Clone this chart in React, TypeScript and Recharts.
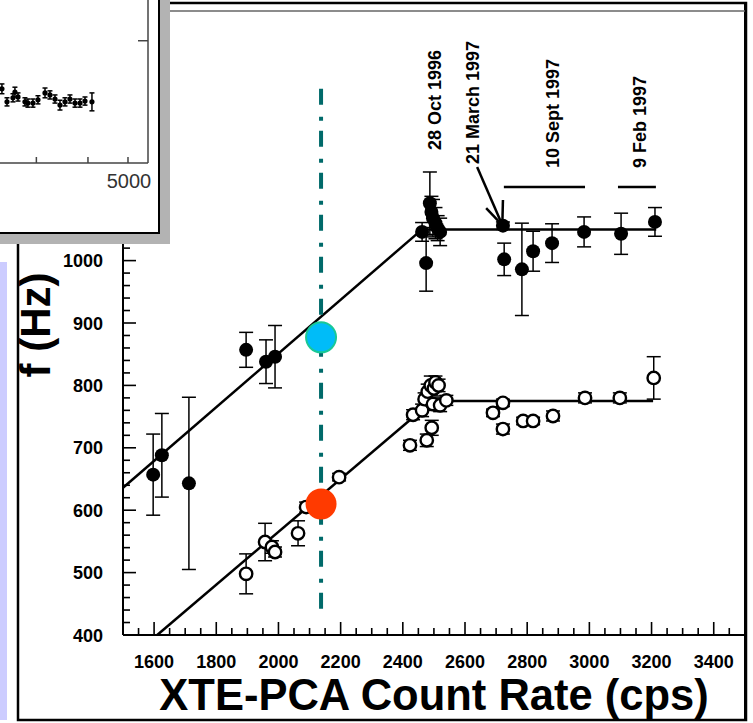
import { ScatterChart, Scatter, XAxis, YAxis, ErrorBar, ReferenceLine } from "recharts";

// upper kHz QPO (filled circles): count rate, frequency, 1-sigma error
const upperRate = [1597, 1625, 1712, 1896, 1960, 1989, 2462, 2475, 2487, 2492, 2497, 2505, 2512, 2520, 2722, 2726, 2783, 2819, 2880, 2983, 3102, 3211];
const upperFreq = [657, 688, 643, 857, 838, 846, 1046, 996, 1092, 1078, 1068, 1060, 1052, 1046, 1056, 1002, 986, 1015, 1028, 1046, 1043, 1062];
const upperErr = [65, 67, 138, 28, 35, 50, 15, 45, 50, 25, 30, 25, 20, 22, 6, 26, 74, 32, 31, 24, 33, 23];

// lower kHz QPO (open circles)
const lowerRate = [1896, 1957, 1979, 1989, 2063, 2089, 2195, 2423, 2433, 2462, 2470, 2477, 2480, 2490, 2493, 2497, 2500, 2505, 2515, 2520, 2540, 2690, 2722, 2722, 2787, 2819, 2883, 2986, 3098, 3207];
const lowerFreq = [498, 549, 541, 533, 563, 605, 653, 704, 753, 760, 778, 712, 790, 800, 732, 770, 795, 805, 800, 768, 776, 756, 772, 730, 743, 743, 751, 780, 780, 812];
const lowerErr = [32, 30, 10, 8, 20, 8, 6, 8, 8, 10, 10, 10, 12, 15, 12, 10, 12, 10, 10, 10, 8, 6, 6, 8, 6, 6, 8, 8, 8, 34];

// broken-line fits (rate, freq)
const upperFit = [[1500, 636], [2462, 1050], [3215, 1050]];
const lowerFit = [[1610, 400], [2495, 775], [3205, 775]];

// marked count rate and the two frequencies read there
const markRate = 2137;
const markFreq = [877, 610];
const markSpan = [442, 1289];

// observation ranges
const sept97Range = [2725, 2986];
const feb97Range = [3092, 3214];
const rangeLevel = 1118;
const marchArrow = [[2639, 1150], [2720, 1057]];
const marchBarbs = [[2668, 1084], [2722, 1097]];

const xMajor = [1600, 1800, 2000, 2200, 2400, 2600, 2800, 3000, 3200, 3400];
const yMajor = [400, 500, 600, 700, 800, 900, 1000, 1100, 1200, 1300, 1400];

// inset light curve
const insetTime = [2476, 2547, 2633, 2662, 2708, 2815, 2862, 2943, 3027, 3148, 3236, 3328, 3422, 3519, 3618, 3721, 3826, 3934, 4090];
const insetRate = [1.82, 1.5, 1.6, 1.74, 1.62, 1.5, 1.47, 1.47, 1.55, 1.72, 1.67, 1.57, 1.42, 1.5, 1.57, 1.47, 1.47, 1.52, 1.5];
const insetErr = [0.12, 0.1, 0.1, 0.12, 0.1, 0.1, 0.1, 0.1, 0.1, 0.12, 0.1, 0.1, 0.12, 0.1, 0.1, 0.1, 0.1, 0.1, 0.22];
const insetTicks = [3000, 4000, 5000];

const upperData = upperRate.map((x, i) => ({ x, y: upperFreq[i], err: upperErr[i] }));
const lowerData = lowerRate.map((x, i) => ({ x, y: lowerFreq[i], err: lowerErr[i] }));
const markData = markFreq.map((y) => ({ x: markRate, y }));
const insetData = insetTime.map((x, i) => ({ x, y: insetRate[i], err: insetErr[i] }));

const xTicks: number[] = [];
for (let v = 1500; v <= 3500; v += 50) xTicks.push(v);
const yTicks: number[] = [];
for (let v = 400; v <= 1400; v += 20) yTicks.push(v);

const FONT = "'Liberation Sans', Arial, Helvetica, sans-serif";

const XTick = (p: any) => {
  const v = p.payload.value;
  const major = xMajor.includes(v);
  return (
    <g>
      <line x1={p.x} x2={p.x} y1={p.y} y2={p.y - (major ? 13 : 7)} stroke="#000" strokeWidth={1.6} />
      {major && (
        <text x={p.x} y={p.y + 33} textAnchor="middle" fontSize={18} fontWeight="bold" fontFamily={FONT} fill="#000">
          {v}
        </text>
      )}
    </g>
  );
};

const YTick = (p: any) => {
  const v = p.payload.value;
  const major = yMajor.includes(v);
  return (
    <g>
      <line x1={p.x} x2={p.x + (major ? 13 : 7)} y1={p.y} y2={p.y} stroke="#000" strokeWidth={1.6} />
      {major && (
        <text x={p.x - 20} y={p.y + 6.5} textAnchor="end" fontSize={18} fontWeight="bold" fontFamily={FONT} fill="#000">
          {v}
        </text>
      )}
    </g>
  );
};

const InsetXTick = (p: any) => {
  const v = p.payload.value;
  return (
    <g>
      <line x1={p.x} x2={p.x} y1={p.y} y2={p.y - 6} stroke="#444" strokeWidth={1.5} />
      {v === 5000 && (
        <text x={p.x + 1} y={p.y + 25} textAnchor="middle" fontSize={20} fontFamily={FONT} fill="#333">
          {v}
        </text>
      )}
    </g>
  );
};

const InsetYTick = (p: any) => (
  <line x1={p.x - 10} x2={p.x} y1={p.y} y2={p.y} stroke="#444" strokeWidth={1.5} />
);

const FilledDot = (p: any) => <circle cx={p.cx} cy={p.cy} r={7} fill="#000" />;
const OpenDot = (p: any) => <circle cx={p.cx} cy={p.cy} r={6.2} fill="#fff" stroke="#000" strokeWidth={2.4} />;
const InsetDot = (p: any) => <circle cx={p.cx} cy={p.cy} r={2.6} fill="#000" />;
const MarkDot = (p: any) =>
  p.index === 0 ? (
    <circle cx={p.cx} cy={p.cy} r={15} fill="#00BCF8" stroke="#19C896" strokeWidth={2} />
  ) : (
    <circle cx={p.cx} cy={p.cy} r={15.5} fill="#FF3A00" />
  );

const seg = (pts: number[][]) => pts.map(([x, y]) => ({ x, y }));

const dateLabels = [
  { text: "28 Oct 1996", x: 435, y: 150 },
  { text: "21 March 1997", x: 473, y: 164 },
  { text: "10 Sept  1997", x: 553, y: 168 },
  { text: "9 Feb 1997", x: 640, y: 168 },
];

export default function App() {
  return (
    <div style={{ position: "absolute", left: 0, top: 0, width: 753, height: 723, background: "#fff", overflow: "hidden" }}>
      <ScatterChart width={753} height={723} margin={{ top: 11, right: 6, left: 0, bottom: 0 }}>
        <XAxis
          type="number"
          dataKey="x"
          domain={[1500, 3507]}
          allowDataOverflow
          ticks={xTicks}
          interval={0}
          tick={XTick}
          tickLine={false}
          tickSize={0}
          tickMargin={0}
          height={88}
          axisLine={{ stroke: "#000", strokeWidth: 2 }}
        />
        <YAxis
          type="number"
          dataKey="y"
          domain={[400, 1400]}
          allowDataOverflow
          ticks={yTicks}
          interval={0}
          tick={YTick}
          tickLine={false}
          tickSize={0}
          tickMargin={0}
          width={123}
          axisLine={{ stroke: "#000", strokeWidth: 2 }}
        />
        <ReferenceLine segment={seg(upperFit.slice(0, 2))} stroke="#000" strokeWidth={2.5} />
        <ReferenceLine segment={seg(upperFit.slice(1))} stroke="#000" strokeWidth={2.5} />
        <ReferenceLine segment={seg(lowerFit.slice(0, 2))} stroke="#000" strokeWidth={2.5} />
        <ReferenceLine segment={seg(lowerFit.slice(1))} stroke="#000" strokeWidth={2.5} />
        <ReferenceLine
          segment={[{ x: markRate, y: markSpan[0] }, { x: markRate, y: markSpan[1] }]}
          stroke="#006A6A"
          strokeWidth={4}
          strokeDasharray="16 10 4 12"
        />
        <ReferenceLine segment={[{ x: sept97Range[0], y: rangeLevel }, { x: sept97Range[1], y: rangeLevel }]} stroke="#000" strokeWidth={2.5} />
        <ReferenceLine segment={[{ x: feb97Range[0], y: rangeLevel }, { x: feb97Range[1], y: rangeLevel }]} stroke="#000" strokeWidth={2.5} />
        <ReferenceLine segment={seg(marchArrow)} stroke="#000" strokeWidth={2.5} />
        {marchBarbs.map((b, i) => (
          <ReferenceLine key={i} segment={seg([b, marchArrow[1]])} stroke="#000" strokeWidth={2.5} />
        ))}
        <Scatter data={lowerData} shape={OpenDot} isAnimationActive={false}>
          <ErrorBar dataKey="err" direction="y" width={7} stroke="#000" strokeWidth={1.5} />
        </Scatter>
        <Scatter data={upperData} shape={FilledDot} isAnimationActive={false}>
          <ErrorBar dataKey="err" direction="y" width={7} stroke="#000" strokeWidth={1.5} />
        </Scatter>
        <Scatter data={markData} shape={MarkDot} isAnimationActive={false} />
      </ScatterChart>

      <svg width={753} height={723} style={{ position: "absolute", left: 0, top: 0, pointerEvents: "none" }}>
        <rect x={0} y={262} width={7} height={458} fill="#CCCCFF" />
        <rect x={18} y={3} width={728} height={717} fill="none" stroke="#000" strokeWidth={2.5} />
        <line x1={745.5} x2={745.5} y1={3} y2={720} stroke="#000" strokeWidth={3} />
        <line x1={170} x2={745} y1={11} y2={11} stroke="#666" strokeWidth={1.5} />
        {dateLabels.map((d) => (
          <text
            key={d.text}
            transform={`translate(${d.x},${d.y}) rotate(-90)`}
            dominantBaseline="central"
            fontSize={18}
            fontWeight="bold"
            fontFamily={FONT}
            fill="#000"
          >
            {d.text}
          </text>
        ))}
        <text x={434} y={710} textAnchor="middle" fontSize={43.5} fontWeight="bold" fontFamily={FONT} fill="#000">
          XTE-PCA Count Rate (cps)
        </text>
        <text
          transform="translate(50,325) rotate(-90)"
          textAnchor="middle"
          fontSize={42}
          fontWeight="bold"
          fontFamily={FONT}
          fill="#000"
        >
          f (Hz)
        </text>
      </svg>

      <div
        style={{
          position: "absolute",
          left: -20,
          top: -20,
          width: 178,
          height: 252,
          background: "#fff",
          borderRight: "2px solid #000",
          borderBottom: "2px solid #000",
          boxShadow: "10px 10px 0 #b3b3b3",
        }}
      >
        <ScatterChart width={178} height={252} margin={{ top: 0, right: 0, left: 0, bottom: 0 }}>
          <XAxis
            type="number"
            dataKey="x"
            scale="log"
            domain={[2191, 5590]}
            allowDataOverflow
            ticks={insetTicks}
            interval={0}
            tick={InsetXTick}
            tickLine={false}
            tickSize={0}
            tickMargin={0}
            height={69}
            axisLine={{ stroke: "#444", strokeWidth: 1.5 }}
          />
          <YAxis
            type="number"
            dataKey="y"
            orientation="right"
            domain={[0, 4.49]}
            allowDataOverflow
            ticks={[3]}
            interval={0}
            tick={InsetYTick}
            tickLine={false}
            tickSize={0}
            tickMargin={0}
            width={10}
            axisLine={{ stroke: "#444", strokeWidth: 1.5 }}
          />
          <Scatter data={insetData} shape={InsetDot} isAnimationActive={false}>
            <ErrorBar dataKey="err" direction="y" width={2.5} stroke="#000" strokeWidth={1.5} />
          </Scatter>
        </ScatterChart>
      </div>
    </div>
  );
}
